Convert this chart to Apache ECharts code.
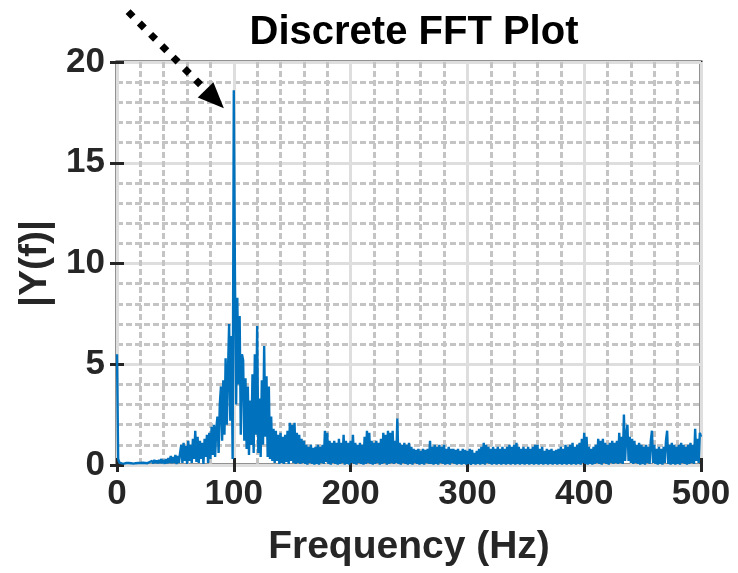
<!DOCTYPE html>
<html>
<head>
<meta charset="utf-8">
<title>Discrete FFT Plot</title>
<script src="https://cdn.jsdelivr.net/npm/echarts@6/dist/echarts.min.js"></script>
<style>
  html, body { margin: 0; padding: 0; background: #fff; }
  #chart { width: 738px; height: 573px; }
</style>
</head>
<body>
<div id="chart"></div>
<script>
const freqStep = 1
const amplitude = [
  5.5, 0.3, 0.12, 0.1, 0.08, 0.1, 0.07, 0.09, 0.1, 0.08,
  0.1, 0.08, 0.09, 0.11, 0.07, 0.1, 0.09, 0.08, 0.1, 0.09,
  0.1, 0.08, 0.11, 0.09, 0.1, 0.12, 0.09, 0.1, 0.15, 0.1,
  0.2, 0.08, 0.25, 0.1, 0.22, 0.08, 0.25, 0.1, 0.3, 0.08,
  0.25, 0.06, 0.3, 0.08, 0.35, 0.1, 0.45, 0.08, 0.4, 0.1,
  0.5, 0.05, 0.45, 0.1, 0.6, 1.0, 0.1, 1.1, 0.2, 0.95,
  0.05, 1.2, 0.2, 1.0, 0.1, 1.3, 0.3, 1.7, 0.15, 1.4,
  0.1, 1.2, 0.3, 1.1, 0.05, 1.3, 0.4, 1.5, 0.1, 1.6,
  0.3, 1.9, 0.5, 2.0, 0.4, 1.8, 2.4, 0.6, 3.0, 3.9,
  1.2, 4.2, 1.5, 5.3, 2.0, 4.6, 7.0, 2.2, 6.4, 0.3,
  18.6, 9.2, 3.0, 8.3, 4.0, 7.4, 1.5, 5.5, 5.2, 1.2,
  4.3, 0.8, 3.9, 0.5, 3.2, 1.0, 4.5, 0.6, 5.5, 1.5,
  6.9, 0.6, 3.3, 0.4, 4.2, 1.0, 5.9, 1.4, 4.4, 0.4,
  3.9, 0.3, 2.4, 0.2, 1.8, 0.1, 1.7, 0.2, 1.5, 0.05,
  1.6, 0.1, 1.4, 0.05, 1.5, 0.15, 1.7, 0.05, 2.1, 0.2,
  2.0, 0.1, 2.1, 0.05, 1.6, 0.1, 1.5, 0.05, 1.3, 0.1,
  1.2, 0.05, 1.0, 0.02, 0.9, 0.1, 1.0, 0.05, 0.85, 0.02,
  0.9, 0.05, 1.0, 0.02, 0.9, 0.1, 1.0, 0.05, 1.7, 0.15,
  1.6, 0.05, 1.2, 0.02, 1.1, 0.1, 1.2, 0.05, 1.1, 0.02,
  1.3, 0.05, 1.1, 0.1, 1.5, 0.02, 1.2, 0.05, 1.1, 0.02,
  1.2, 0.1, 1.5, 0.05, 1.1, 0.02, 1.0, 0.1, 1.1, 0.05,
  1.0, 0.02, 1.4, 0.05, 1.7, 0.1, 1.6, 0.05, 1.2, 0.02,
  1.1, 0.05, 1.2, 0.1, 1.1, 0.02, 1.3, 0.05, 1.6, 0.1,
  1.5, 0.02, 1.7, 0.05, 1.6, 0.1, 1.7, 0.05, 1.2, 0.1,
  2.3, 0.05, 1.1, 0.02, 1.0, 0.1, 1.1, 0.05, 1.0, 0.02,
  1.1, 0.05, 0.9, 0.02, 0.8, 0.1, 0.75, 0.05, 0.8, 0.02,
  0.7, 0.05, 0.8, 0.02, 0.75, 0.1, 0.8, 0.05, 1.2, 0.05,
  0.9, 0.02, 1.0, 0.05, 0.9, 0.02, 1.0, 0.1, 0.9, 0.05,
  1.0, 0.02, 0.8, 0.05, 0.9, 0.02, 0.8, 0.1, 0.8, 0.05,
  0.75, 0.02, 0.8, 0.05, 0.7, 0.02, 0.8, 0.05, 0.75, 0.02,
  0.7, 0.05, 0.8, 0.01, 0.75, 0.05, 0.6, 0.02, 0.7, 0.05,
  0.8, 0.02, 0.9, 0.05, 1.1, 0.02, 1.0, 0.1, 0.9, 0.05,
  0.8, 0.02, 0.9, 0.05, 0.8, 0.02, 0.9, 0.05, 0.8, 0.02,
  0.9, 0.05, 0.8, 0.02, 0.9, 0.05, 1.0, 0.02, 0.9, 0.05,
  1.0, 0.02, 1.1, 0.05, 0.9, 0.02, 0.8, 0.05, 0.9, 0.02,
  0.8, 0.05, 0.9, 0.02, 0.8, 0.05, 0.9, 0.02, 1.0, 0.05,
  1.0, 0.02, 0.8, 0.05, 0.9, 0.02, 0.7, 0.05, 0.8, 0.02,
  0.75, 0.05, 0.8, 0.02, 0.7, 0.05, 0.75, 0.02, 0.8, 0.05,
  0.9, 0.02, 0.8, 0.05, 1.0, 0.02, 0.9, 0.05, 1.0, 0.02,
  1.1, 0.05, 0.9, 0.02, 1.0, 0.05, 1.1, 0.02, 1.3, 0.1,
  1.6, 0.05, 1.4, 0.02, 0.9, 0.05, 0.8, 0.02, 0.9, 0.05,
  1.0, 0.1, 1.3, 0.05, 1.2, 0.02, 1.3, 0.1, 1.1, 0.05,
  1.0, 0.02, 1.1, 0.1, 1.2, 0.05, 1.1, 0.1, 1.2, 0.05,
  1.6, 0.1, 1.4, 0.05, 2.5, 0.2, 1.5, 2.0, 0.2, 1.4,
  0.1, 1.3, 0.05, 1.2, 0.1, 1.0, 0.05, 1.1, 0.02, 1.0,
  0.05, 0.9, 0.02, 1.0, 0.1, 0.9, 0.05, 1.2, 1.7, 0.1,
  1.0, 0.05, 0.8, 0.02, 0.9, 0.05, 0.8, 0.02, 0.9, 0.1,
  1.2, 1.7, 0.05, 1.0, 0.02, 1.1, 0.05, 1.0, 0.02, 0.9,
  0.05, 1.0, 0.02, 1.1, 0.1, 1.0, 0.05, 0.9, 0.02, 1.0,
  0.05, 1.1, 0.1, 1.0, 0.05, 1.8, 0.2, 1.3, 0.1, 1.6,
  1.4
]

// axis ticks
const xTicks = [0, 100, 200, 300, 400, 500]
const yTicks = [0, 5, 10, 15, 20]

// arrow annotation, in data units [Hz, |Y|]
const arrowStart = [9.5, 22.5]
const arrowEnd = [91.5, 17.7]

const fontFamily = '"Liberation Sans", Arial, sans-serif'
const axisColor = '#262626'

const chart = echarts.init(document.getElementById('chart'))

const majorSplit = { show: true, lineStyle: { color: '#dedede', width: 3 } }
const minorSplit = { show: true, lineStyle: { color: '#c4c4c4', width: 3, type: [6, 3] } }
const tickLabel = { color: axisColor, fontSize: 35, fontWeight: 'bold', fontFamily }
const innerTick = { show: true, inside: true, length: 7, lineStyle: { color: axisColor, width: 3 } }
const nameStyle = { color: axisColor, fontSize: 39, fontWeight: 'bold', fontFamily }

const fftData = amplitude.map((v, i) => [i * freqStep, v])

const option = {
  animation: false,
  backgroundColor: '#fff',
  title: {
    text: 'Discrete FFT Plot',
    left: 409,
    top: 8,
    textAlign: 'center',
    textStyle: { color: '#000', fontSize: 40, fontWeight: 'bold', fontFamily }
  },
  grid: {
    left: 117, right: 37, top: 62, bottom: 108,
    show: true,
    borderColor: axisColor,
    borderWidth: 3,
    backgroundColor: '#fff'
  },
  xAxis: [
    {
      type: 'value',
      min: xTicks[0],
      max: xTicks[xTicks.length - 1],
      interval: 100,
      name: 'Frequency (Hz)',
      nameLocation: 'middle',
      nameGap: 63,
      nameTextStyle: nameStyle,
      axisLine: { show: false },
      axisTick: innerTick,
      axisLabel: { ...tickLabel, margin: 12 },
      splitLine: majorSplit,
      minorTick: { show: false, splitNumber: 5 },
      minorSplitLine: minorSplit
    },
    {
      type: 'value',
      position: 'top',
      min: xTicks[0],
      max: xTicks[xTicks.length - 1],
      interval: 100,
      axisLine: { show: false },
      axisTick: innerTick,
      axisLabel: { show: false },
      splitLine: { show: false }
    }
  ],
  yAxis: [
    {
      type: 'value',
      min: yTicks[0],
      max: yTicks[yTicks.length - 1],
      interval: 5,
      name: '|Y(f)|',
      nameLocation: 'middle',
      nameGap: 60,
      nameRotate: 90,
      nameTextStyle: nameStyle,
      axisLine: { show: false },
      axisTick: innerTick,
      axisLabel: { ...tickLabel, margin: 12 },
      splitLine: majorSplit,
      minorTick: { show: false, splitNumber: 5 },
      minorSplitLine: minorSplit
    },
    {
      type: 'value',
      position: 'right',
      min: yTicks[0],
      max: yTicks[yTicks.length - 1],
      interval: 5,
      axisLine: { show: false },
      axisTick: innerTick,
      axisLabel: { show: false },
      splitLine: { show: false }
    }
  ],
  series: [
    {
      type: 'line',
      data: fftData,
      showSymbol: false,
      symbol: 'none',
      lineStyle: { color: '#0072BD', width: 2.4 },
      z: 3
    }
  ]
}

chart.setOption(option)

// dotted arrow pointing at the 100 Hz peak
const drawArrow = () => {
  const p0 = chart.convertToPixel({ xAxisIndex: 0, yAxisIndex: 0 }, arrowStart)
  const p1 = chart.convertToPixel({ xAxisIndex: 0, yAxisIndex: 0 }, arrowEnd)
  const ang = Math.atan2(p1[1] - p0[1], p1[0] - p0[0])
  const headLen = 26
  const headHalf = 11
  const bx = p1[0] - headLen * Math.cos(ang)
  const by = p1[1] - headLen * Math.sin(ang)
  const nx = -Math.sin(ang)
  const ny = Math.cos(ang)
  chart.setOption({
    graphic: [
      {
        type: 'line',
        shape: { x1: p0[0], y1: p0[1], x2: bx, y2: by },
        style: { stroke: '#000', lineWidth: 7, lineDash: [7, 9], lineCap: 'butt' },
        z: 10
      },
      {
        type: 'polygon',
        shape: { points: [[p1[0], p1[1]], [bx + nx * headHalf, by + ny * headHalf], [bx - nx * headHalf, by - ny * headHalf]] },
        style: { fill: '#000' },
        z: 10
      }
    ]
  })
}
drawArrow()
</script>
</body>
</html>
